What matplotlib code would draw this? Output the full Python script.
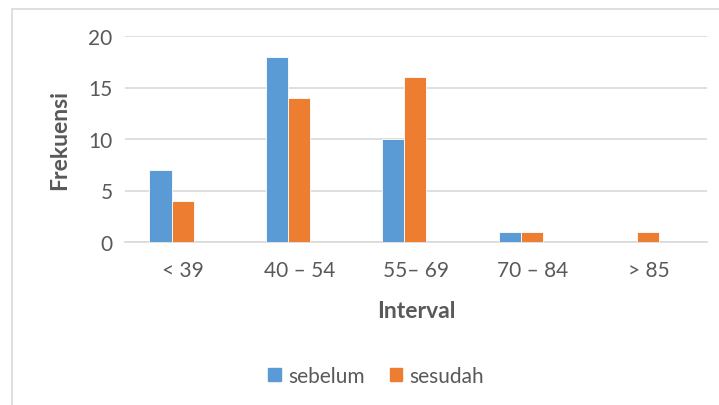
import numpy as np
import matplotlib
matplotlib.use("Agg")
import matplotlib.pyplot as plt
from matplotlib.patches import Rectangle, Patch

plt.rcParams["font.family"] = ["Lato", "DejaVu Sans"]

CATEGORIES = ["< 39", "40 – 54", "55– 69", "70 – 84", "> 85"]
SEBELUM = [7, 18, 10, 1, 0]
SESUDAH = [4, 14, 16, 1, 1]

BLUE = "#5B9BD5"
ORANGE = "#ED7D31"
TEXT = "#595959"
GRID = "#D9D9D9"

fig = plt.figure(figsize=(7.19, 4.06), dpi=100)
ax = fig.add_axes([125 / 719, 1 - 243 / 406, (707 - 125) / 719, (243 - 37) / 406])

# chart frame, cut off at right and bottom like the screenshot
fig.patches.append(Rectangle((12 / 719, -0.1), 1.1, 1 - 10 / 406 + 0.1,
                             transform=fig.transFigure, fill=False,
                             edgecolor="#D9D9D9", linewidth=1.2))

x = np.arange(len(CATEGORIES))
w = 0.19
shift = -0.1  # bar pairs sit a little left of the label centres in the original
ax.bar(x + shift - w / 2, SEBELUM, w, color=BLUE, edgecolor="white", linewidth=0.6, zorder=3, label="sebelum")
ax.bar(x + shift + w / 2, SESUDAH, w, color=ORANGE, edgecolor="white", linewidth=0.6, zorder=3, label="sesudah")

ax.set_xlim(-0.5, len(CATEGORIES) - 0.5)
ax.set_ylim(0, 20)
ax.set_yticks([0, 5, 10, 15, 20])
ax.set_xticks(x)
ax.set_xticklabels(CATEGORIES)
ax.yaxis.grid(True, color=GRID, linewidth=1.2, zorder=0)
ax.set_axisbelow(True)
for s in ["top", "right", "left"]:
    ax.spines[s].set_visible(False)
ax.spines["bottom"].set_color(GRID)
ax.spines["bottom"].set_linewidth(1.2)
ax.tick_params(axis="both", length=0, labelsize=15, colors=TEXT)
ax.tick_params(axis="x", pad=13)
ax.tick_params(axis="y", pad=9)

ax.set_xlabel("Interval", fontsize=16.5, fontweight="bold", color=TEXT)
ax.xaxis.set_label_coords(0.5, 1 - (311 - 37) / 206)
ax.set_ylabel("Frekuensi", fontsize=16.5, fontweight="bold", color=TEXT)
ax.yaxis.set_label_coords(-65 / 582, 1 - (140 - 37) / 206)
ax.xaxis.label.set_va("center")
ax.yaxis.label.set_va("center")

handles = [Patch(color=BLUE), Patch(color=ORANGE)]
fig.legend(handles, ["sebelum", "sesudah"], loc="center", bbox_to_anchor=(376 / 719, 1 - 377 / 406),
           ncol=2, frameon=False, fontsize=15, handlelength=0.6, handleheight=0.6,
           handletextpad=0.35, columnspacing=1.2, labelcolor=TEXT)

fig.savefig("out.png", dpi=100)
